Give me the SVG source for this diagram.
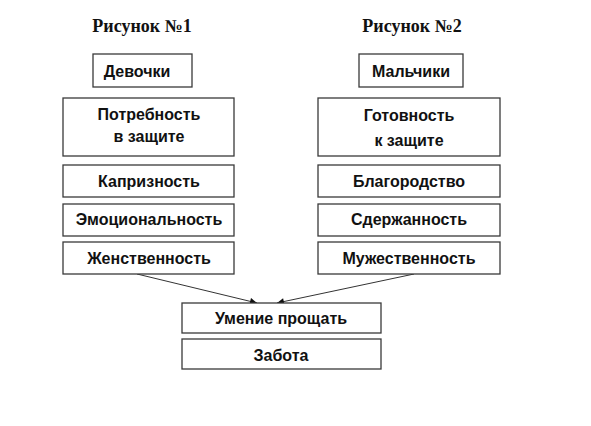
<svg xmlns="http://www.w3.org/2000/svg" width="591" height="426" viewBox="0 0 591 426">
<style>
.box{fill:#fff;stroke:#3a3a3a;stroke-width:1.3}
.t{font-family:"Liberation Sans",Arial,sans-serif;font-weight:bold;font-size:16px;fill:#111;text-anchor:middle}
.h{font-family:"Liberation Serif","Times New Roman",serif;font-weight:bold;font-size:18px;fill:#111;text-anchor:middle}
.c{stroke:#333;stroke-width:1;fill:none}
</style>
<defs>
<marker id="ah" viewBox="0 0 10 10" refX="10" refY="5" markerWidth="9" markerHeight="7" markerUnits="userSpaceOnUse" orient="auto">
<path d="M0,0 L10,5 L0,10 z" fill="#111"/>
</marker>
</defs>
<rect width="591" height="426" fill="#fff"/>
<g id="title1"><text class="h" x="142" y="32">Рисунок №1</text></g>
<g id="title2"><text class="h" x="412" y="32">Рисунок №2</text></g>
<g id="connectors">
<line class="c" x1="137" y1="274" x2="257" y2="303" marker-end="url(#ah)"/>
<line class="c" x1="414" y1="274" x2="277" y2="303" marker-end="url(#ah)"/>
</g>
<g id="devochki"><rect class="box" x="93" y="54" width="99" height="33"/><text class="t" x="137" y="77">Девочки</text></g>
<g id="potrebnost"><rect class="box" x="63" y="98" width="171" height="58"/><text class="t" x="149" y="120">Потребность</text><text class="t" x="149" y="142">в защите</text></g>
<g id="kapriznost"><rect class="box" x="63" y="165" width="171" height="32"/><text class="t" x="149" y="187">Капризность</text></g>
<g id="emotsionalnost"><rect class="box" x="63" y="204" width="171" height="32"/><text class="t" x="149" y="225">Эмоциональность</text></g>
<g id="zhenstvennost"><rect class="box" x="63" y="242" width="171" height="32"/><text class="t" x="149" y="264">Женственность</text></g>
<g id="malchiki"><rect class="box" x="359" y="54" width="104" height="33"/><text class="t" x="411" y="77">Мальчики</text></g>
<g id="gotovnost"><rect class="box" x="318" y="98" width="182" height="58"/><text class="t" x="409" y="121">Готовность</text><text class="t" x="409" y="146">к защите</text></g>
<g id="blagorodstvo"><rect class="box" x="318" y="165" width="182" height="32"/><text class="t" x="409" y="187">Благородство</text></g>
<g id="sderzhannost"><rect class="box" x="318" y="204" width="182" height="32"/><text class="t" x="409" y="225">Сдержанность</text></g>
<g id="muzhestvennost"><rect class="box" x="318" y="242" width="182" height="32"/><text class="t" x="409" y="264">Мужественность</text></g>
<g id="umenie"><rect class="box" x="182" y="303" width="199" height="30"/><text class="t" x="281" y="324">Умение прощать</text></g>
<g id="zabota"><rect class="box" x="182" y="339" width="199" height="30"/><text class="t" x="281" y="361">Забота</text></g>
</svg>
